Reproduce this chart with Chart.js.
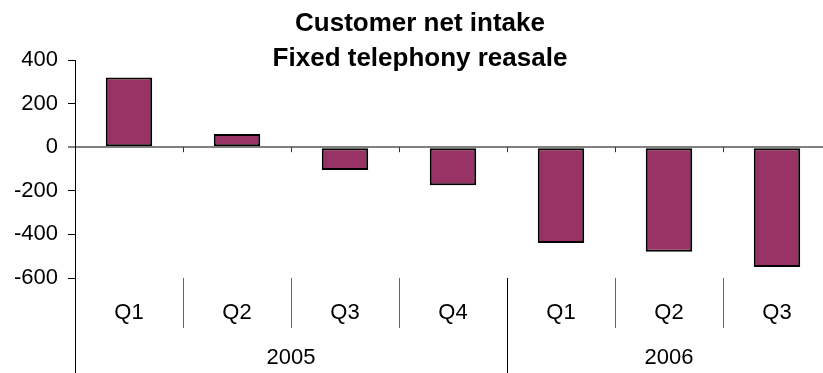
<!DOCTYPE html>
<html>
<head>
<meta charset="utf-8">
<script src="https://cdn.jsdelivr.net/npm/chart.js@4.4.1/dist/chart.umd.min.js"></script>
<style>
    html, body { margin: 0; padding: 0; background: #fff; overflow: hidden; }
    #wrap { width: 840px; height: 373px; position: relative; }
</style>
</head>
<body>
<div id="wrap"><canvas id="intakeChart"></canvas></div>
<script>
const quarters = ['Q1', 'Q2', 'Q3', 'Q4', 'Q1', 'Q2', 'Q3'];
const years = ['2005', '2006'];
const quartersPerYear = [4, 3];
const netIntake = [320, 60, -105, -175, -440, -480, -550];
const yTicks = [-600, -400, -200, 0, 200, 400];
const titleLines = ['Customer net intake', 'Fixed telephony reasale'];

const FONT = "'Liberation Sans', Arial, sans-serif";

// year row, quarter separators, long y axis and the title
const axisExtras = {
    id: 'axisExtras',
    afterDraw(chart) {
        const ctx = chart.ctx;
        const x = chart.scales.x;
        const y = chart.scales.y;
        const area = chart.chartArea;
        const step = (area.right - area.left) / quarters.length;
        const edge = i => x.getPixelForValue(i) - step / 2;
        const y0 = y.getPixelForValue(0);
        const bottom = chart.height;

        ctx.save();
        ctx.lineWidth = 1;

        // y axis runs down through the label rows
        ctx.strokeStyle = '#000';
        ctx.beginPath();
        ctx.moveTo(area.left + 0.5, area.bottom);
        ctx.lineTo(area.left + 0.5, bottom);
        ctx.stroke();

        // small ticks under the zero line
        ctx.strokeStyle = '#333';
        for (let i = 1; i <= quarters.length; i++) {
            const px = Math.round(edge(i)) + 0.5;
            ctx.beginPath();
            ctx.moveTo(px, y0);
            ctx.lineTo(px, y0 + 5);
            ctx.stroke();
        }

        // separators between quarters and between years
        let yearEnds = [];
        let acc = 0;
        quartersPerYear.forEach(n => { acc += n; yearEnds.push(acc); });
        for (let i = 1; i < quarters.length; i++) {
            const px = Math.round(edge(i)) + 0.5;
            const isYear = yearEnds.includes(i);
            ctx.strokeStyle = isYear ? '#000' : '#666';
            ctx.beginPath();
            ctx.moveTo(px, area.bottom);
            ctx.lineTo(px, isYear ? bottom : area.bottom + 50);
            ctx.stroke();
        }

        // year labels
        ctx.fillStyle = '#000';
        ctx.font = '22px ' + FONT;
        ctx.textAlign = 'center';
        ctx.textBaseline = 'middle';
        let start = 0;
        years.forEach((yr, k) => {
            const end = start + quartersPerYear[k];
            const cx = (edge(start) + edge(end)) / 2;
            ctx.fillText(yr, cx, 358);
            start = end;
        });

        // title
        ctx.font = 'bold 26px ' + FONT;
        ctx.textBaseline = 'alphabetic';
        ctx.fillText(titleLines[0], chart.width / 2, 31);
        ctx.fillText(titleLines[1], chart.width / 2, 66);
        ctx.restore();
    }
};

const chart = new Chart(document.getElementById('intakeChart'), {
    type: 'bar',
    data: {
        labels: quarters,
        datasets: [{
            data: netIntake,
            backgroundColor: '#993366',
            borderColor: '#000',
            borderWidth: 2,
            borderSkipped: false,
            categoryPercentage: 1,
            barPercentage: 0.43
        }]
    },
    options: {
        responsive: true,
        maintainAspectRatio: false,
        animation: false,
        layout: {
            padding: { top: 60, right: 9, bottom: 0, left: 0 }
        },
        plugins: {
            legend: { display: false },
            tooltip: { enabled: false }
        },
        scales: {
            x: {
                grid: { display: false },
                border: { display: false },
                ticks: {
                    color: '#000',
                    font: { family: FONT, size: 22 },
                    padding: 14,
                    maxRotation: 0,
                    autoSkip: false
                },
                afterFit(scale) { scale.height = 95; }
            },
            y: {
                min: -600,
                max: 400,
                afterBuildTicks(scale) {
                    scale.ticks = yTicks.map(v => ({ value: v }));
                },
                grid: {
                    color: c => c.tick && c.tick.value === 0 ? '#808080' : 'rgba(0,0,0,0)',
                    lineWidth: c => c.tick && c.tick.value === 0 ? 2 : 1,
                    tickColor: '#000',
                    tickWidth: 1,
                    tickLength: 7,
                    drawTicks: true
                },
                border: { display: true, color: '#000', width: 1 },
                ticks: {
                    color: '#000',
                    font: { family: FONT, size: 22 },
                    padding: 10
                },
                afterFit(scale) { scale.width = 75; }
            }
        }
    },
    plugins: [axisExtras]
});
</script>
</body>
</html>
